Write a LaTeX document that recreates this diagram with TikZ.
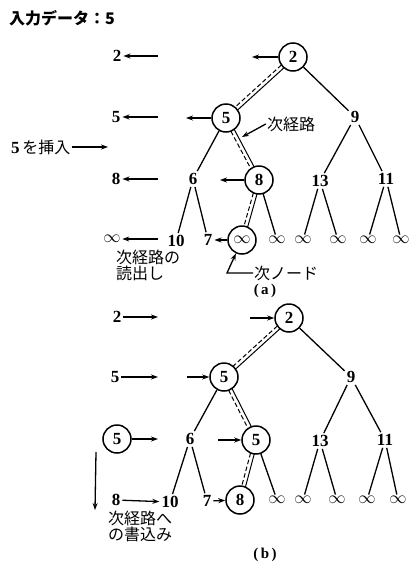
\documentclass[tikz,border=0pt]{standalone}
\usepackage{fontspec}
\setmainfont{Liberation Serif}
\newfontfamily\jp{Noto Sans CJK JP}
\usetikzlibrary{calc,arrows.meta,backgrounds}
\newcommand\dbl[2]{%
  \draw[dedge] ($(#1)!1.9pt!90:(#2)$) -- ($(#2)!1.9pt!-90:(#1)$);
  \draw[dedge,dash pattern=on 4.5pt off 2.5pt] ($(#1)!1.9pt!-90:(#2)$) -- ($(#2)!1.9pt!90:(#1)$);}
\begin{document}
\begin{tikzpicture}[x=1pt,y=-1pt,
  num/.style={font=\fontsize{17}{17}\selectfont\bfseries, inner sep=2pt},
  inf/.style={font=\fontsize{17}{17}\selectfont, inner sep=1.5pt},
  cir/.style={draw, circle, minimum size=28pt, inner sep=0pt, line width=1.5pt, fill=white, font=\fontsize{17}{17}\selectfont\bfseries},
  jtxt/.style={font=\jp\fontsize{16}{14.5}\selectfont, inner sep=1pt, align=left},
  arr/.style={-{Stealth[length=7pt,width=5pt]}, line width=1.3pt},
  edge/.style={line width=1.3pt},
  dedge/.style={line width=1pt},
]
\path[use as bounding box] (0,0) rectangle (413,563);

% ---------- (a) ----------
\node[font=\jp\bfseries\fontsize{16}{16}\selectfont, inner sep=0pt, anchor=west] (title) at (9,18) {入力データ：5};

\node[num] (la0) at (117,56) {2};
\node[num] (la1) at (116,117) {5};
\node[num] (la2) at (116,179) {8};
\node[inf] (la3) at (112,239) {$\infty$};
\coordinate (ea0) at (158,56);
\coordinate (ea1) at (158,117);
\coordinate (ea2) at (158,179);
\coordinate (ea3) at (158,239);
\draw[arr] (ea0) -- (la0);
\draw[arr] (ea1) -- (la1);
\draw[arr] (ea2) -- (la2);
\draw[arr] (ea3) -- (la3);

\node[cir] (a2) at (293,57) {2};
\node[cir] (a5) at (226,118) {5};
\node[num] (a9) at (355,117) {9};
\node[num] (a6) at (193,179) {6};
\node[cir] (a8) at (259,180) {8};
\node[num] (a13) at (320,181) {13};
\node[num] (a11) at (386,179) {11};
\node[num] (a10) at (176,241) {10};
\node[num] (a7) at (208,240) {7};
\node[cir, font=\fontsize{17}{17}\selectfont] (ainf) at (242,240) {$\infty$};
\node[inf] (ai1) at (277,240) {$\infty$};
\node[inf] (ai2) at (303,240) {$\infty$};
\node[inf] (ai3) at (338,240) {$\infty$};
\node[inf] (ai4) at (368,240) {$\infty$};
\node[inf] (ai5) at (401,240) {$\infty$};

\coordinate (pa0) at (252,57);
\coordinate (pa1) at (186,118);
\coordinate (pa2) at (220,180);
\draw[arr] (a2) -- (pa0);
\draw[arr] (a5) -- (pa1);
\draw[arr] (a8) -- (pa2);
\draw[arr] (ainf) -- (a7);

\node[jtxt, anchor=west] (ins) at (10,147) {{\rmfamily\bfseries\fontsize{17}{17}\selectfont 5}\,を挿入};
\coordinate (insE) at (108,147);
\draw[arr] (ins) -- (insE);

\node[jtxt] (nxp) at (291,124) {次経路};
\coordinate (nxpE) at (242,137);
\draw[arr] (nxp.west) -- (nxpE);

\node[jtxt, anchor=north west] (rd) at (115,249) {次経路の\\読出し};

\node[jtxt, anchor=west] (nn) at (253,273) {次ノード};
\coordinate (nnb) at (227,273);
\draw[arr] (nn.west) -- (nnb) -- (ainf);

\node[font=\rmfamily\bfseries\fontsize{15}{15}\selectfont] (capa) at (265,291) {(\,a\,)};

\begin{scope}[on background layer]
  \draw[edge] (a2) -- (a9);
  \draw[edge] (a5) -- (a6);
  \draw[edge] (a9) -- (a13);
  \draw[edge] (a9) -- (a11);
  \draw[edge] (a6) -- (a10);
  \draw[edge] (a6) -- (a7);
  \draw[edge] (a8) -- (ai1);
  \draw[edge] (a13) -- (ai2);
  \draw[edge] (a13) -- (ai3);
  \draw[edge] (a11) -- (ai4);
  \draw[edge] (a11) -- (ai5);
  \dbl{a2}{a5}
  \dbl{a5}{a8}
  \dbl{a8}{ainf}
\end{scope}

% ---------- (b) ----------
\node[num] (lb0) at (117,317) {2};
\node[num] (lb1) at (115,377) {5};
\node[cir] (lb2) at (117,439) {5};
\node[num] (lb3) at (116,500) {8};
\coordinate (eb0) at (158,317);
\coordinate (eb1) at (158,377);
\coordinate (eb2) at (158,439);
\draw[arr] (lb0) -- (eb0);
\draw[arr] (lb1) -- (eb1);
\draw[arr] (lb2) -- (eb2);
\coordinate (vd0) at (96,452);
\coordinate (vd1) at (95,510);
\draw[arr] (vd0) -- (vd1);

\node[cir] (b2) at (289,318) {2};
\node[cir] (b5) at (224,377) {5};
\node[num] (b9) at (351,377) {9};
\node[num] (b6) at (190,439) {6};
\node[cir] (b5b) at (256,440) {5};
\node[num] (b13) at (320,441) {13};
\node[num] (b11) at (385,440) {11};
\node[num] (b10) at (170,502) {10};
\node[num] (b7) at (207,501) {7};
\node[cir] (b8) at (240,500) {8};
\node[inf] (bi1) at (277,500) {$\infty$};
\node[inf] (bi2) at (303,500) {$\infty$};
\node[inf] (bi3) at (337,500) {$\infty$};
\node[inf] (bi4) at (367,500) {$\infty$};
\node[inf] (bi5) at (398,500) {$\infty$};

\draw[arr] (lb3) -- (b10);
\coordinate (pb0) at (250,318);
\coordinate (pb1) at (187,377);
\coordinate (pb2) at (218,440);
\draw[arr] (pb0) -- (b2);
\draw[arr] (pb1) -- (b5);
\draw[arr] (pb2) -- (b5b);
\draw[arr] (b7) -- (b8);

\node[jtxt, anchor=north west] (wr) at (107,510) {次経路へ\\の書込み};
\node[font=\rmfamily\bfseries\fontsize{15}{15}\selectfont] (capb) at (265,555) {(\,b\,)};

\begin{scope}[on background layer]
  \draw[edge] (b2) -- (b9);
  \draw[edge] (b5) -- (b6);
  \draw[edge] (b9) -- (b13);
  \draw[edge] (b9) -- (b11);
  \draw[edge] (b6) -- (b10);
  \draw[edge] (b6) -- (b7);
  \draw[edge] (b5b) -- (bi1);
  \draw[edge] (b13) -- (bi2);
  \draw[edge] (b13) -- (bi3);
  \draw[edge] (b11) -- (bi4);
  \draw[edge] (b11) -- (bi5);
  \dbl{b2}{b5}
  \dbl{b5}{b5b}
  \dbl{b5b}{b8}
\end{scope}
\end{tikzpicture}
\end{document}
